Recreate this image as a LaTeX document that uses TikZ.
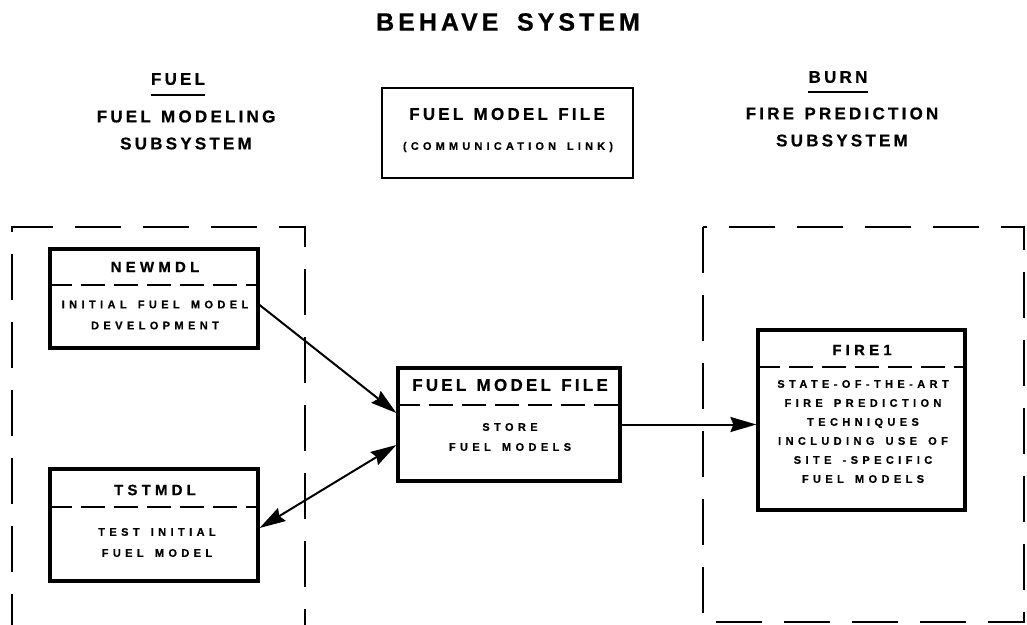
\documentclass[tikz,border=0pt]{standalone}
\usepackage{fontspec}
\setmainfont{Liberation Sans}[BoldFeatures={FakeBold=0.6}]
\usetikzlibrary{arrows.meta}
\newcommand{\spc}[2]{\addfontfeatures{LetterSpace=#1}\spaceskip=#2\fontdimen2\font\relax}
\tikzset{
  every node/.style={inner sep=0pt},
  titletext/.style={font=\bfseries\fontsize{25}{30}\selectfont\spc{16}{1.7}},
  headtext/.style={font=\bfseries\fontsize{17}{27}\selectfont\spc{19}{1.3}, align=center},
  progtitle/.style={font=\bfseries\fontsize{15}{18}\selectfont\spc{28}{1.3}},
  bodytext/.style={font=\bfseries\fontsize{11}{21}\selectfont\spc{40}{1.5}, align=center},
  progbox/.style={draw, line width=3.2pt},
  divider/.style={line width=1.8pt, dash pattern=on 24pt off 9pt},
  frame/.style={line width=1.8pt, dash pattern=on 46pt off 22pt},
  link/.style={line width=2pt, -{Stealth[length=26pt,width=15pt,inset=3pt]}},
  twoway/.style={line width=2pt, {Stealth[length=26pt,width=15pt,inset=3pt]}-{Stealth[length=26pt,width=15pt,inset=3pt]}}
}
\begin{document}
\begin{tikzpicture}[x=1pt,y=-1pt]
\useasboundingbox (0,0) rectangle (1027,624);

\node[titletext] (behave) at (508,22) {BEHAVE SYSTEM};
\node[headtext] (fuel) at (178,79) {FUEL};
\node[headtext] (fuelsub) at (186,130) {FUEL MODELING\\SUBSYSTEM};
\node[headtext] (burn) at (838,77) {BURN};
\node[headtext] (burnsub) at (842,127) {FIRE PREDICTION\\SUBSYSTEM};
\draw[line width=2pt] ([yshift=-10pt]fuel.south west) -- ([yshift=-10pt]fuel.south east);
\draw[line width=2pt] ([yshift=-9pt]burn.south west) -- ([yshift=-9pt]burn.south east);

\node[draw, line width=2.4pt, minimum width=251pt, minimum height=90pt] (linkbox) at (507.5,133) {};
\node[headtext] (linktitle) at (507,114) {FUEL MODEL FILE};
\node[font=\bfseries\fontsize{11}{12}\selectfont\spc{38}{1.5}] (linksub) at (508,147) {(COMMUNICATION LINK)};

\draw[frame] (12,640) -- (12,227) -- (305,227) -- (305,640);
\draw[frame] (703,227) -- (703,622) -- (1024,622) -- (1024,227) -- cycle;

\node[progbox, minimum width=208pt, minimum height=99pt] (newmdl) at (154,298.5) {};
\node[progtitle] (newmdltitle) at (155,267) {NEWMDL};
\draw[divider] (newmdl.west |- 0,285) -- (newmdl.east |- 0,285);
\node[bodytext] (newmdltext) at (155,315) {INITIAL FUEL MODEL\\DEVELOPMENT};

\node[progbox, minimum width=208pt, minimum height=112pt] (tstmdl) at (154,525) {};
\node[progtitle] (tstmdltitle) at (155,490) {TSTMDL};
\draw[divider] (tstmdl.west |- 0,507) -- (tstmdl.east |- 0,507);
\node[bodytext] (tstmdltext) at (157,542.5) {TEST INITIAL\\FUEL MODEL};

\node[progbox, minimum width=222pt, minimum height=113pt] (fmf) at (509,424.5) {};
\node[headtext] (fmftitle) at (510,385) {FUEL MODEL FILE};
\draw[divider] (fmf.west |- 0,405) -- (fmf.east |- 0,405);
\node[bodytext, font=\bfseries\fontsize{11}{20}\selectfont\spc{40}{1.5}] (fmftext) at (510,437) {STORE\\FUEL MODELS};

\node[progbox, minimum width=207pt, minimum height=180pt] (fire1) at (861.5,420) {};
\node[progtitle] (fire1title) at (862,350) {FIRE1};
\draw[divider] (fire1.west |- 0,367) -- (fire1.east |- 0,367);
\node[bodytext, font=\bfseries\fontsize{11}{19}\selectfont\spc{40}{1.5}] (fire1text) at (863,431.5) {STATE-OF-THE-ART\\FIRE PREDICTION\\TECHNIQUES\\INCLUDING USE OF\\SITE -SPECIFIC\\FUEL MODELS};

\draw[link] ([yshift=-6.5pt]newmdl.east) -- ([yshift=11.5pt]fmf.west);
\draw[twoway] ([yshift=-20.5pt]fmf.west) -- ([yshift=-3pt]tstmdl.east);
\draw[link] (fmf.east) -- (fmf.east -| fire1.west);

\end{tikzpicture}
\end{document}
